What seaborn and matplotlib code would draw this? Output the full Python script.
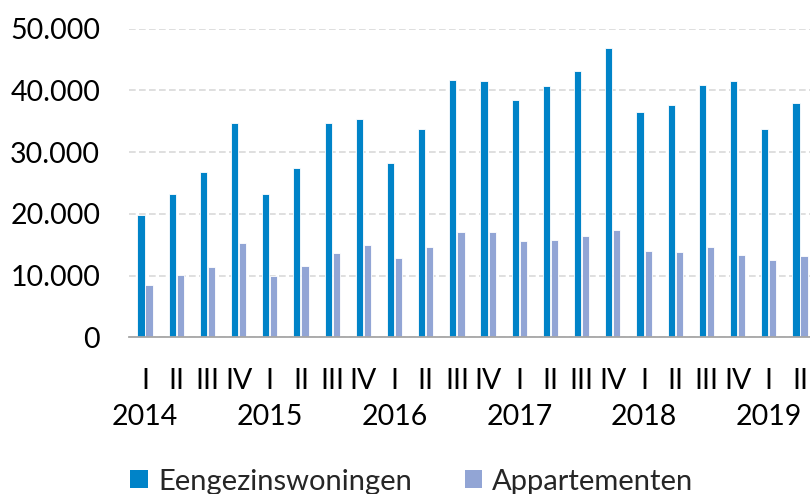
import pandas as pd
import seaborn as sns
import matplotlib.pyplot as plt
from matplotlib.ticker import FuncFormatter, FixedLocator
from matplotlib.patches import Patch

sns.set_style("white")
plt.rcParams['font.family'] = ['Lato', 'DejaVu Sans']

jaren = ["2014", "2015", "2016", "2017", "2018", "2019"]
kwartalen = ["I", "II", "III", "IV"]
perioden = [f"{j}-{k}" for j in jaren for k in kwartalen][:22]

eengezins = [19800, 23200, 26800, 34700, 23200, 27400, 34800, 35400, 28300, 33800, 41700,
             41600, 38500, 40700, 43200, 46900, 36500, 37600, 40800, 41600, 33700, 37900]
appartementen = [8500, 10100, 11400, 15200, 10000, 11600, 13700, 15000, 12800, 14600, 17100,
                 17100, 15600, 15800, 16400, 17400, 14000, 13800, 14600, 13300, 12500, 13100]

series = ["Eengezinswoningen", "Appartementen"]
kleuren = ["#0083C8", "#92A5D5"]

df = pd.DataFrame({
    "periode": perioden * 2,
    "type": [series[0]] * len(perioden) + [series[1]] * len(perioden),
    "aantal": eengezins + appartementen,
})

fig = plt.figure(figsize=(8.1, 4.94), dpi=100)
ax = fig.add_axes([129.4 / 810, 156.7 / 494, 686.2 / 810, 308.6 / 494])

sns.barplot(data=df, x="periode", y="aantal", hue="type", order=perioden,
            palette=kleuren, saturation=1, width=0.52, gap=0.12, edgecolor="white",
            linewidth=0.6, ax=ax, legend=False)

ax.set_ylim(0, 50000)
ax.set_xlim(-0.5, len(perioden) - 0.5)
ax.set_yticks(range(0, 50001, 10000))
ax.yaxis.set_major_formatter(FuncFormatter(lambda v, p: f"{v:,.0f}".replace(",", ".")))
ax.grid(axis="y", color="#D9D9D9", linestyle=(0, (4, 2)), linewidth=1.2)
ax.set_axisbelow(True)

# kwartalen als hoofdticks, jaartallen als minor ticks onder kwartaal I
ax.set_xticks(range(len(perioden)))
ax.set_xticklabels([p.split("-")[1] for p in perioden])
jaar_pos = [i for i, p in enumerate(perioden) if p.endswith("-I")]
ax.xaxis.remove_overlapping_locs = False
ax.xaxis.set_minor_locator(FixedLocator(jaar_pos))
ax.set_xticklabels([perioden[i].split("-")[0] for i in jaar_pos], minor=True)

ax.tick_params(axis="both", which="both", length=0, labelsize=20.5, colors="black")
ax.tick_params(axis="y", pad=21)
ax.tick_params(axis="x", which="major", pad=22)
ax.tick_params(axis="x", which="minor", pad=48)
ax.set_xlabel("")
ax.set_ylabel("")

for s in ["top", "right", "left"]:
    ax.spines[s].set_visible(False)
ax.spines["bottom"].set_color("#A6A6A6")
ax.spines["bottom"].set_linewidth(1.3)

handles = [Patch(facecolor=c, edgecolor="none") for c in kleuren]
fig.legend(handles, series, loc="center", bbox_to_anchor=(412 / 810, 12.5 / 494),
           ncol=2, frameon=False, fontsize=21, handlelength=0.6, handleheight=0.6,
           handletextpad=0.35, columnspacing=1.8)

fig.savefig("out.png", dpi=100)
